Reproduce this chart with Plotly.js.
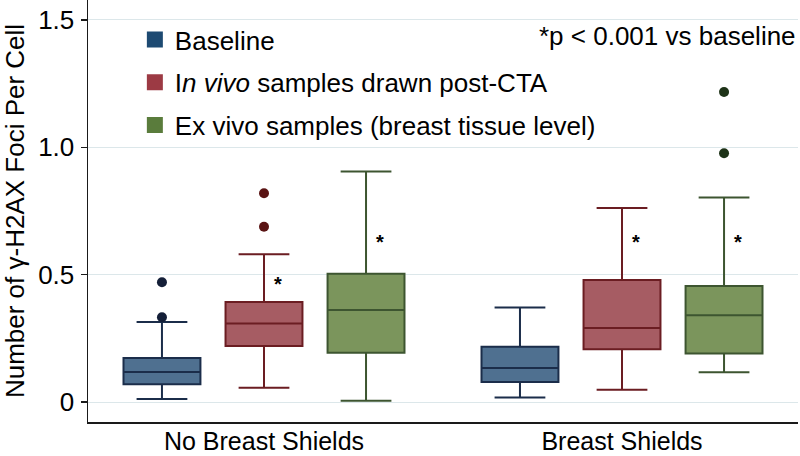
<!DOCTYPE html>
<html>
<head>
<meta charset="utf-8">
<script src="https://cdn.plot.ly/plotly-3.0.1.min.js"></script>
<style>html,body{margin:0;padding:0;background:#fff}#chart{width:800px;height:456px}</style>
</head>
<body>
<div id="chart"></div>
<script>
// ---- data ----
const categories = ['No Breast Shields', 'Breast Shields'];
const seriesNames = ['Baseline', 'I<i>n vivo</i> samples drawn post-CTA', 'Ex vivo samples (breast tissue level)'];

const baselineLower  = [0.012, 0.018];
const baselineQ1     = [0.070, 0.079];
const baselineMedian = [0.118, 0.134];
const baselineQ3     = [0.173, 0.217];
const baselineUpper  = [0.314, 0.371];
const baselineOutliers = [[0.470, 0.333], [null]];

const inVivoLower  = [0.056, 0.048];
const inVivoQ1     = [0.220, 0.207];
const inVivoMedian = [0.308, 0.291];
const inVivoQ3     = [0.393, 0.479];
const inVivoUpper  = [0.580, 0.762];
const inVivoOutliers = [[0.820, 0.688], [null]];

const exVivoLower  = [0.005, 0.117];
const exVivoQ1     = [0.193, 0.190];
const exVivoMedian = [0.361, 0.341];
const exVivoQ3     = [0.504, 0.456];
const exVivoUpper  = [0.905, 0.803];
const exVivoOutliers = [[null], [1.217, 0.977]];

// significance markers: category index, series index, y value
const sigCategory = [0, 0, 1, 1];
const sigSeries   = [1, 2, 1, 2];
const sigY        = [0.483, 0.646, 0.647, 0.648];

const yTickVals = [0, 0.5, 1.0, 1.5];
const yTickText = ['0', '0.5', '1.0', '1.5'];
const noteText = '*p &lt; 0.001 vs baseline';
const yTitle = 'Number of γ-H2AX Foci Per Cell';

// ---- styles ----
const FONT = 'Liberation Sans, Arial, Helvetica, sans-serif';
const fills   = ['#4f7090', '#a65c63', '#7b955c'];
const lines   = ['#1b2d4a', '#6b1d22', '#3d5530'];
const swatch  = ['#1d4a72', '#9c3a44', '#5a7c3c'];
const ptColor = ['#141f38', '#5a1414', '#1e3318'];
const BOXGAP = 0.145, BOXGROUPGAP = 0.246;

const stats = [
  {lf: baselineLower, q1: baselineQ1, med: baselineMedian, q3: baselineQ3, uf: baselineUpper, out: baselineOutliers},
  {lf: inVivoLower,   q1: inVivoQ1,   med: inVivoMedian,   q3: inVivoQ3,   uf: inVivoUpper,   out: inVivoOutliers},
  {lf: exVivoLower,   q1: exVivoQ1,   med: exVivoMedian,   q3: exVivoQ3,   uf: exVivoUpper,   out: exVivoOutliers}
];

const traces = [];
stats.forEach((s, i) => {
  traces.push({
    type: 'box',
    name: seriesNames[i],
    legendgroup: 'g' + i,
    showlegend: false,
    x: categories,
    y: s.out,
    q1: s.q1, median: s.med, q3: s.q3,
    lowerfence: s.lf, upperfence: s.uf,
    boxpoints: 'outliers',
    pointpos: 0, jitter: 0,
    whiskerwidth: 0.66,
    fillcolor: fills[i],
    line: {color: lines[i], width: 2},
    marker: {color: ptColor[i], size: 10, line: {width: 0}},
    hoverinfo: 'skip'
  });
});
// legend swatches
stats.forEach((s, i) => {
  traces.push({
    type: 'scatter', mode: 'markers',
    name: seriesNames[i],
    legendgroup: 'g' + i,
    x: [null], y: [null],
    marker: {symbol: 'square', size: 16, color: swatch[i], line: {width: 0}},
    hoverinfo: 'skip'
  });
});

const annotations = [{
  xref: 'paper', yref: 'paper', x: 1.0, y: 0.915, xanchor: 'right', yanchor: 'middle',
  text: noteText, showarrow: false, font: {family: FONT, size: 26, color: '#000'}
}];
const slot = (1 - BOXGAP) / 3;
sigY.forEach((v, k) => {
  annotations.push({
    xref: 'x', yref: 'y',
    x: sigCategory[k] + (sigSeries[k] - 1) * slot,
    y: v, xshift: 14, yshift: -5,
    text: '<b>*</b>', showarrow: false,
    font: {family: FONT, size: 20, color: '#000'}
  });
});

const layout = {
  width: 800, height: 456,
  margin: {l: 88, r: 2, t: 0, b: 34},
  paper_bgcolor: '#fff', plot_bgcolor: '#fff',
  font: {family: FONT, size: 26, color: '#000'},
  boxmode: 'group', boxgap: BOXGAP, boxgroupgap: BOXGROUPGAP,
  showlegend: true,
  legend: {
    x: 0.066, y: 0.962, xanchor: 'left', yanchor: 'top',
    bgcolor: 'rgba(0,0,0,0)', borderwidth: 0,
    traceorder: 'grouped', tracegroupgap: 6,
    font: {family: FONT, size: 26, color: '#000'}
  },
  xaxis: {
    type: 'category', categoryorder: 'array', categoryarray: categories,
    range: [-0.4916, 1.4916],
    showline: true, linecolor: '#1a1a1a', linewidth: 1.5,
    ticks: '', showgrid: false, zeroline: false,
    tickfont: {family: FONT, size: 25, color: '#000'},
    ticklabelstandoff: -4,
    automargin: false
  },
  yaxis: {
    range: [-0.0785, 1.5785],
    tickvals: yTickVals, ticktext: yTickText,
    ticks: 'outside', ticklen: 6, tickwidth: 1.5, tickcolor: '#1a1a1a',
    showline: true, linecolor: '#1a1a1a', linewidth: 1.5,
    showgrid: true, gridcolor: '#dce7ea', gridwidth: 1,
    zeroline: false,
    tickfont: {family: FONT, size: 26, color: '#000'},
    ticklabelstandoff: 1,
    title: {text: yTitle, font: {family: FONT, size: 26, color: '#000'}, standoff: 8},
    automargin: false
  },
  annotations: annotations
};

Plotly.newPlot('chart', traces, layout, {displayModeBar: false, staticPlot: true});
</script>
</body>
</html>
